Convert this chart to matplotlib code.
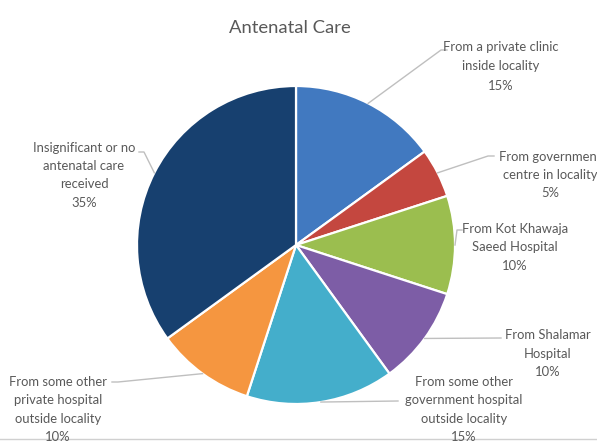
import numpy as np
import matplotlib
matplotlib.use("Agg")
import matplotlib.pyplot as plt

plt.rcParams['font.family'] = ['Lato', 'DejaVu Sans']

# Sources of antenatal care (percent of respondents), clockwise from 12 o'clock
categories = [
    "From a private clinic\ninside locality",
    "From government\ncentre in locality",
    "From Kot Khawaja\nSaeed Hospital",
    "From Shalamar\nHospital",
    "From some other\ngovernment hospital\noutside locality",
    "From some other\nprivate hospital\noutside locality",
    "Insignificant or no\nantenatal care\nreceived",
]
shares = [15, 5, 10, 10, 15, 10, 35]
colors = ["#4179C0", "#C4473F", "#9BBE4F", "#7D5DA6", "#44AECB", "#F59640", "#17406F"]

W, H = 597, 441
fig = plt.figure(figsize=(W / 100, H / 100), dpi=100)
ax = fig.add_axes([0, 0, 1, 1])


def px(x, y):
    """Pixel position (origin top-left) to axes data coordinates."""
    return x, H - y


cx, cy = px(296, 245)
R = 159
wedges, _ = ax.pie(shares, colors=colors, startangle=90, counterclock=False,
                   center=(cx, cy), radius=R, frame=True,
                   wedgeprops=dict(edgecolor='white', linewidth=1.6))
ax.set_xlim(0, W)
ax.set_ylim(0, H)
ax.set_aspect('equal')
ax.axis('off')

# label layout: (text centre x, first line y, leader end x, leader end y, elbow dx)
layout = [
    (501, 47, 447, 50, -6),
    (550, 157, 494, 156, -6),
    (515, 229, 462, 230, -5),
    (548, 335, 501, 338, 0),
    (464, 382, 398, 401, 0),
    (58, 382, 112, 382, 6),
    (84, 148, 139, 152, 5),
]
line_gap = [19.5, 18.0, 18.3, 18.5, 18.3, 18.3, 18.2]

text_color = "#595959"
leader_color = "#BFBFBF"

for w, name, val, (tx, ty, lx, ly, dx), gap in zip(wedges, categories, shares, layout, line_gap):
    mid = np.deg2rad((w.theta1 + w.theta2) / 2)
    ex = cx + R * np.cos(mid)
    ey = cy + R * np.sin(mid)
    ax.plot([ex, lx + dx, lx], [ey, H - ly, H - ly], color=leader_color,
            lw=1.0, zorder=1, solid_joinstyle='round')
    lines = name.split("\n") + [f"{val}%"]
    for i, ln in enumerate(lines):
        x, y = px(tx, ty + i * gap)
        ax.text(x, y, ln, ha='center', va='center', fontsize=9.4,
                color=text_color, zorder=3)

x, y = px(290, 28)
ax.text(x, y, "Antenatal Care", ha='center', va='center', fontsize=13.3,
        color="#595959")

# thin frame rule along the bottom edge
ax.plot([0, W], [H - 438.5, H - 438.5], color="#D0D0D0", lw=1.0)

fig.savefig("out.png", dpi=100)
